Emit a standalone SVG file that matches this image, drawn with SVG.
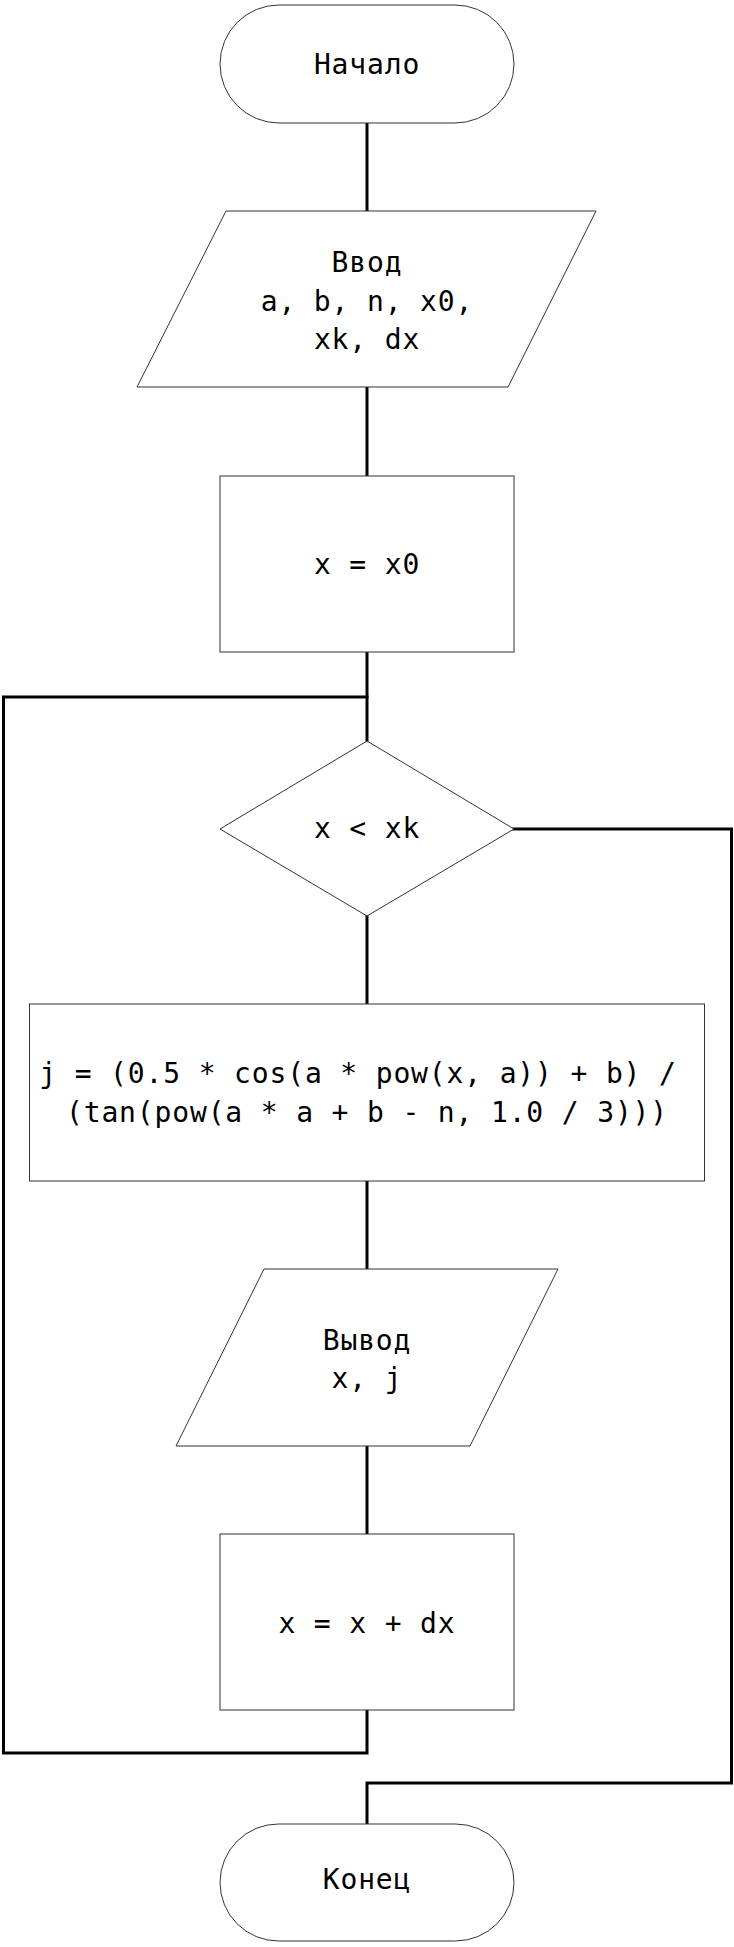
<svg xmlns="http://www.w3.org/2000/svg" width="734" height="1947" viewBox="0 0 734 1947">
  <style>
    .shape { fill: #ffffff; stroke: #333333; stroke-width: 1; }
    .flow { fill: none; stroke: #000000; stroke-width: 3; stroke-linejoin: miter; stroke-linecap: square; }
    .label { font-family: "DejaVu Sans Mono", "Liberation Mono", monospace; font-size: 28px; letter-spacing: 0.85px; fill: #000000; text-anchor: middle; }
  </style>
  <rect width="734" height="1947" fill="#ffffff"/>

  <!-- connectors -->
  <g id="connectors">
    <line class="flow" x1="367" y1="123" x2="367" y2="211"/>
    <line class="flow" x1="367" y1="387" x2="367" y2="476"/>
    <line class="flow" x1="367" y1="652" x2="367" y2="741"/>
    <line class="flow" x1="367" y1="916" x2="367" y2="1004"/>
    <line class="flow" x1="367" y1="1181" x2="367" y2="1269"/>
    <line class="flow" x1="367" y1="1446" x2="367" y2="1534"/>
    <!-- loop back: x = x + dx -> condition -->
    <polyline class="flow" points="367,1710 367,1753 3.5,1753 3.5,697 367,697"/>
    <!-- exit branch: condition false -> end -->
    <polyline class="flow" points="513,829 731.5,829 731.5,1783 367,1783 367,1824"/>
  </g>

  <g id="start">
    <rect class="shape" x="220" y="5" width="294" height="118" rx="59" ry="59"/>
    <text class="label" x="367" y="74">Начало</text>
  </g>

  <g id="input">
    <polygon class="shape" points="226,211 596,211 508,387 137,387"/>
    <text class="label" x="367" y="272">Ввод</text>
    <text class="label" x="367" y="311">a, b, n, x0,</text>
    <text class="label" x="367" y="349">xk, dx</text>
  </g>

  <g id="init">
    <rect class="shape" x="220" y="476" width="294" height="176"/>
    <text class="label" x="367" y="574">x = x0</text>
  </g>

  <g id="condition">
    <polygon class="shape" points="367,741 514,829 367,916 220,829"/>
    <text class="label" x="367" y="838">x &lt; xk</text>
  </g>

  <g id="compute">
    <rect class="shape" x="29.5" y="1004" width="675" height="177"/>
    <!-- first line wraps after "/", so it is centred with its trailing space -->
    <text class="label" x="358" y="1083">j = (0.5 * cos(a * pow(x, a)) + b) /</text>
    <text class="label" x="367" y="1122">(tan(pow(a * a + b - n, 1.0 / 3)))</text>
  </g>

  <g id="output">
    <polygon class="shape" points="264,1269 558,1269 470,1446 176,1446"/>
    <text class="label" x="367" y="1350">Вывод</text>
    <text class="label" x="367" y="1388">x, j</text>
  </g>

  <g id="step">
    <rect class="shape" x="220" y="1534" width="294" height="176"/>
    <text class="label" x="367" y="1633">x = x + dx</text>
  </g>

  <g id="end">
    <rect class="shape" x="220" y="1824" width="294" height="117" rx="58.5" ry="58.5"/>
    <text class="label" x="367" y="1889">Конец</text>
  </g>
</svg>
